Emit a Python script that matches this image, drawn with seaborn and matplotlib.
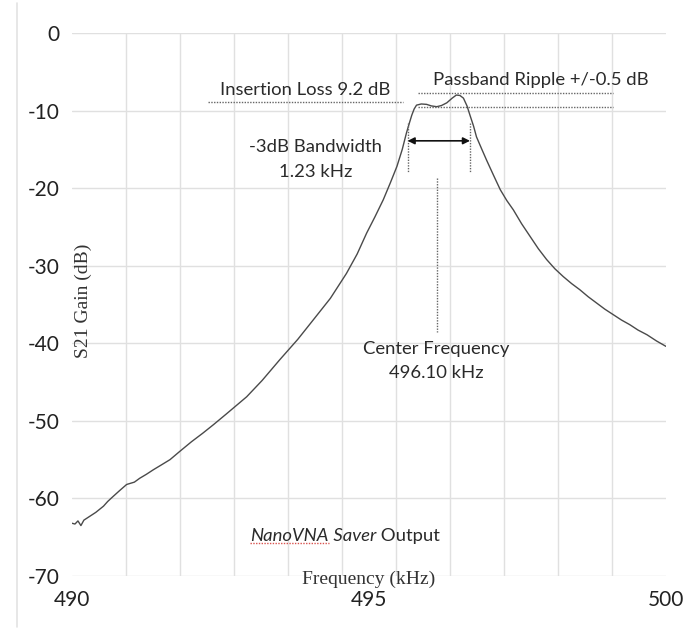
import numpy as np
import pandas as pd
import matplotlib
matplotlib.use("Agg")
import matplotlib.pyplot as plt
import seaborn as sns
from matplotlib.lines import Line2D

# ---------------- data ----------------
freq_khz = [490.00, 490.05, 490.10, 490.15, 490.20, 490.30, 490.40, 490.53, 490.60, 490.67,
            490.80, 490.92, 491.05, 491.14, 491.25, 491.37, 491.50, 491.65, 491.82, 492.01,
            492.20, 492.38, 492.60, 492.94, 493.20, 493.50, 493.80, 494.06, 494.35, 494.62,
            494.80, 494.96, 495.10, 495.24, 495.36, 495.47, 495.56, 495.63, 495.68, 495.72,
            495.76, 495.80, 495.88, 495.97, 496.05, 496.14, 496.22, 496.31, 496.40, 496.47,
            496.53, 496.59, 496.65, 496.70, 496.76, 496.81, 496.90, 496.98, 497.10, 497.21,
            497.32, 497.43, 497.57, 497.71, 497.85, 497.99, 498.13, 498.27, 498.41, 498.55,
            498.69, 498.83, 498.97, 499.11, 499.25, 499.39, 499.53, 499.68, 499.84, 500.00]
gain_db = [-63.2, -63.3, -62.9, -63.5, -62.8, -62.3, -61.8, -61.0, -60.4, -59.9,
           -59.0, -58.2, -57.9, -57.4, -56.9, -56.3, -55.7, -55.0, -53.9, -52.7,
           -51.6, -50.5, -49.1, -46.9, -44.8, -42.1, -39.5, -37.0, -34.2, -31.0,
           -28.5, -25.8, -23.7, -21.5, -19.3, -17.2, -15.0, -12.9, -11.6, -10.6,
           -9.8, -9.3, -9.15, -9.2, -9.4, -9.5, -9.35, -9.0, -8.4, -8.0,
           -8.05, -8.4, -9.4, -10.6, -12.0, -13.4, -15.0, -16.4, -18.4, -20.2,
           -21.6, -22.8, -24.6, -26.2, -27.8, -29.2, -30.4, -31.4, -32.3, -33.1,
           -34.0, -34.8, -35.6, -36.3, -37.0, -37.6, -38.3, -38.9, -39.7, -40.4]

x_tick_values = [490, 495, 500]
y_tick_values = [0, -10, -20, -30, -40, -50, -60, -70]

insertion_loss_line = [492.29, 495.57, -8.9]      # x0, x1, y
ripple_upper_line = [495.82, 499.11, -7.75]
ripple_lower_line = [495.82, 499.11, -9.5]
bw_left_freq = 495.65
bw_right_freq = 496.70
bw_line_span = [-11.6, -17.9]
bw_arrow_level = -13.9
center_freq = 496.15
center_line_span = [-18.7, -38.5]

df = pd.DataFrame({"Frequency (kHz)": freq_khz, "S21 Gain (dB)": gain_db})

# ---------------- style ----------------
sns.set_theme(style="white")
plt.rcParams["font.family"] = ["Lato", "DejaVu Sans"]
plt.rcParams["axes.unicode_minus"] = False

fig = plt.figure(figsize=(6.89, 6.30), dpi=100)
ax = fig.add_axes([72/689, 1-576/630, (666-72)/689, (576-33)/630])

sns.lineplot(data=df, x="Frequency (kHz)", y="S21 Gain (dB)", ax=ax,
             color="#4a4a4a", linewidth=1.0)

ax.set_xlim(490, 500)
ax.set_ylim(-70, 0)
ax.set_xticks(x_tick_values)
ax.set_xticks(np.linspace(490, 500, 12), minor=True)
ax.set_yticks(y_tick_values)
ax.grid(False)
ax.grid(True, which="minor", axis="x", color="#e0e0e0", linewidth=1.0)
ax.grid(True, which="major", axis="y", color="#e0e0e0", linewidth=1.0)
ax.set_axisbelow(True)
for s in ax.spines.values():
    s.set_visible(False)
ax.tick_params(axis="both", which="both", length=0)
ax.tick_params(axis="y", pad=9, labelsize=15, labelcolor="#222222")
ax.tick_params(axis="x", pad=10, labelsize=15, labelcolor="#222222")
ax.set_xlabel("")
ax.set_ylabel("")

serif = ["Liberation Serif", "DejaVu Serif"]
ax.text(0.5, -0.0055, "Frequency (kHz)", transform=ax.transAxes, ha="center", va="center",
        family=serif, fontsize=14, color="#333333")
ax.text(0.019, 0.506, "S21 Gain (dB)", transform=ax.transAxes, ha="center", va="center",
        rotation=90, family=serif, fontsize=14, color="#333333")

dot = dict(color="#666666", linestyle=(0, (1, 1)), linewidth=1.0)
ax.plot(insertion_loss_line[:2], [insertion_loss_line[2]] * 2, **dot)
ax.plot(ripple_upper_line[:2], [ripple_upper_line[2]] * 2, **dot)
ax.plot(ripple_lower_line[:2], [ripple_lower_line[2]] * 2, **dot)
ax.plot([bw_left_freq] * 2, bw_line_span, **dot)
ax.plot([bw_right_freq] * 2, bw_line_span, **dot)
ax.plot([center_freq] * 2, center_line_span, **dot)
ax.annotate("", xy=(bw_left_freq, bw_arrow_level), xytext=(bw_right_freq, bw_arrow_level),
            arrowprops=dict(arrowstyle="<|-|>", color="#111111", lw=1.2,
                            mutation_scale=10, shrinkA=0, shrinkB=0))

tc = "#2a2a2a"
fs = 13.3
ax.text(493.93, -7.4, "Insertion Loss 9.2 dB", ha="center", va="center", fontsize=fs, color=tc)
ax.text(497.9, -6.0, "Passband Ripple +/-0.5 dB", ha="center", va="center", fontsize=fs, color=tc)
ax.text(494.1, -14.7, "-3dB Bandwidth", ha="center", va="center", fontsize=fs, color=tc)
ax.text(494.1, -17.95, "1.23 kHz", ha="center", va="center", fontsize=fs, color=tc)
ax.text(496.13, -40.8, "Center Frequency", ha="center", va="center", fontsize=fs, color=tc)
ax.text(496.13, -43.8, "496.10 kHz", ha="center", va="center", fontsize=fs, color=tc)

# NanoVNA Saver Output caption
cap_y = -64.8
t1 = ax.text(493.0, cap_y, "NanoVNA", ha="left", va="center", fontsize=fs, style="italic", color=tc)
fig.canvas.draw()
r = fig.canvas.get_renderer()
bb1 = t1.get_window_extent(r)
inv = ax.transData.inverted()
x_end1 = inv.transform((bb1.x1, bb1.y0))[0]
x_start1 = inv.transform((bb1.x0, bb1.y0))[0]
t2 = ax.text(x_end1, cap_y, " Saver", ha="left", va="center", fontsize=fs, style="italic", color=tc)
fig.canvas.draw()
bb2 = t2.get_window_extent(r)
x_end2 = inv.transform((bb2.x1, bb2.y0))[0]
ax.text(x_end2, cap_y, " Output", ha="left", va="center", fontsize=fs, color=tc)
ax.plot([x_start1, x_end1], [cap_y - 1.0, cap_y - 1.0], color="#d9534f",
        linestyle=(0, (1, 1)), linewidth=1.0)

fig.add_artist(Line2D([17/689, 17/689], [0.005, 0.995], transform=fig.transFigure,
                      color="#e3e3e3", linewidth=1.2))

fig.savefig("out.png", dpi=100, facecolor="white")
